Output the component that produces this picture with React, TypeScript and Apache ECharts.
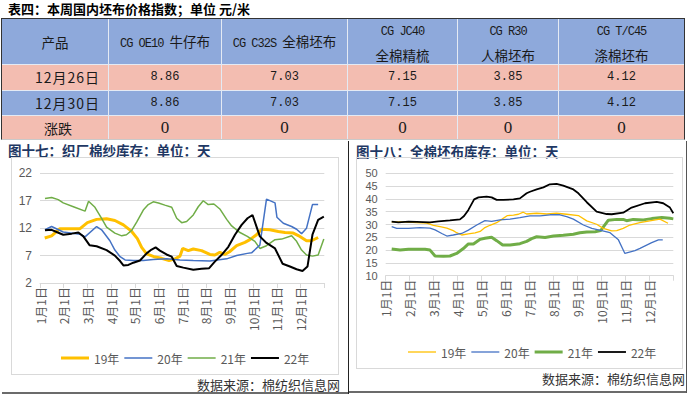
import React, { useEffect, useRef } from "react";
import * as echarts from "echarts";

// ---------- table data ----------
const tableTitle = "表四：本周国内坯布价格指数；单位 元/米";
const headerFirst = "产品";
const products = ["CG OE10 牛仔布", "CG C32S 全棉坯布", "CG JC40\n全棉精梳", "CG R30\n人棉坯布", "CG T/C45\n涤棉坯布"];
const rowLabels = ["12月26日", "12月30日", "涨跌"];
const prices1226 = ["8.86", "7.03", "7.15", "3.85", "4.12"];
const prices1230 = ["8.86", "7.03", "7.15", "3.85", "4.12"];
const changes = ["0", "0", "0", "0", "0"];

// ---------- chart data (x = months since 1月1日, y = days) ----------
const monthLabels = ["1月1日", "2月1日", "3月1日", "4月1日", "5月1日", "6月1日", "7月1日", "8月1日", "9月1日", "10月1日", "11月1日", "12月1日"];
const seriesNames = ["19年", "20年", "21年", "22年"];

const yarn19 = [[0.2,10.2],[0.49,10.6],[0.84,11.9],[1.69,11.9],[2.0,13.0],[2.39,13.6],[2.81,13.7],[3.16,13.4],[3.52,12.6],[3.87,11.4],[4.11,10.1],[4.29,8.5],[4.5,7.3],[4.81,6.8],[5.13,6.5],[5.45,6.1],[5.7,6.4],[5.91,6.9],[6.02,8.3],[6.26,7.9],[6.47,8.2],[6.82,7.9],[7.17,7.2],[7.38,7.1],[7.59,7.6],[7.8,7.2],[8.0,7.7],[8.3,8.8],[8.65,9.4],[8.86,9.9],[9.14,10.8],[9.35,11.8],[9.7,11.7],[10.06,11.4],[10.34,11.2],[10.69,11.1],[10.97,10.5],[11.25,9.7],[11.46,9.7],[11.74,10.3]];
const yarn20 = [[0.21,11.7],[0.49,12.3],[0.98,11.3],[1.69,10.9],[1.9,10.4],[2.39,12.3],[2.6,11.7],[2.95,9.7],[3.16,8.0],[3.38,6.8],[3.59,6.2],[3.94,6.1],[4.36,6.1],[4.78,6.3],[5.34,6.4],[5.9,6.2],[6.47,6.1],[7.17,6.0],[7.88,6.4],[8.3,7.0],[8.75,7.4],[8.93,7.5],[9.28,8.9],[9.56,17.3],[9.92,16.6],[10.0,14.0],[10.27,12.9],[10.62,12.3],[10.83,11.8],[11.04,11.0],[11.25,12.0],[11.5,16.3],[11.74,16.3]];
const yarn21 = [[0.21,17.4],[0.49,17.6],[0.77,17.2],[0.98,16.6],[1.41,15.9],[1.9,15.1],[2.05,16.9],[2.32,15.8],[2.6,13.8],[2.81,12.2],[3.16,11.1],[3.45,10.6],[3.65,10.8],[3.87,11.6],[4.08,13.1],[4.36,15.3],[4.57,16.3],[4.78,16.8],[5.0,16.6],[5.27,16.2],[5.56,15.8],[5.77,13.8],[5.98,13.0],[6.19,13.2],[6.47,14.4],[6.68,15.9],[6.89,17.0],[7.1,16.3],[7.34,16.4],[7.59,15.5],[7.88,13.6],[8.09,12.4],[8.44,11.2],[8.75,10.5],[9.07,9.6],[9.28,8.3],[9.56,8.8],[9.92,9.9],[10.2,10.0],[10.62,10.6],[10.83,9.6],[11.04,8.0],[11.25,7.1],[11.5,6.9],[11.74,7.1],[11.98,10.0]];
const yarn22 = [[0.21,11.6],[0.49,11.7],[0.7,11.3],[0.98,10.8],[1.34,11.0],[1.62,11.2],[1.83,10.5],[2.09,8.9],[2.39,8.7],[2.81,8.0],[3.16,7.0],[3.38,6.0],[3.52,5.2],[3.73,5.3],[3.94,5.7],[4.22,6.1],[4.5,7.4],[4.71,8.1],[4.88,8.5],[5.06,7.9],[5.34,7.2],[5.56,6.8],[5.77,5.1],[6.05,4.8],[6.47,4.4],[6.82,4.6],[7.14,4.7],[7.38,5.9],[7.66,7.1],[7.95,8.6],[8.23,10.8],[8.51,12.6],[8.76,13.8],[8.97,14.4],[9.28,10.5],[9.56,9.3],[9.92,8.3],[10.24,5.5],[10.55,5.0],[10.83,4.5],[11.08,4.2],[11.29,5.0],[11.5,10.8],[11.74,13.5],[11.98,14.1]];

const fabric19 = [[0.25,31.0],[0.6,31.0],[0.95,30.9],[1.29,30.7],[1.71,30.5],[1.99,29.7],[2.27,29.2],[2.55,28.6],[2.82,27.6],[2.96,26.8],[3.17,25.9],[3.45,26.3],[3.73,26.7],[3.94,27.3],[4.14,28.8],[4.35,29.7],[4.63,30.7],[4.84,32.0],[5.08,33.5],[5.33,33.7],[5.54,34.0],[5.74,34.8],[5.88,34.1],[6.3,34.4],[6.72,34.1],[7.13,34.4],[7.55,34.0],[8.04,33.5],[8.39,31.4],[8.8,30.1],[9.08,28.5],[9.43,27.5],[9.64,27.6],[9.91,28.5],[10.19,29.8],[10.6,30.7],[11.02,31.4],[11.44,32.1],[11.78,30.5]];
const fabric20 = [[0.25,29.2],[0.46,28.5],[0.95,28.5],[1.43,28.8],[1.85,28.6],[2.06,27.9],[2.34,26.5],[2.55,25.5],[2.82,25.9],[3.17,26.5],[3.45,27.8],[3.8,29.8],[4.14,31.5],[4.42,31.2],[4.77,31.8],[5.19,32.1],[5.6,32.7],[6.02,33.4],[6.44,33.4],[6.86,33.8],[7.27,33.8],[7.55,33.1],[7.83,32.1],[8.25,29.8],[8.6,28.5],[9.01,27.6],[9.36,26.8],[9.71,24.0],[9.98,18.7],[10.4,19.8],[10.61,20.7],[11.1,22.9],[11.38,24.0],[11.56,24.0]];
const fabric21 = [[0.25,20.4],[0.6,20.0],[0.95,20.3],[1.29,20.3],[1.64,20.3],[1.85,20.0],[2.06,17.7],[2.41,17.6],[2.68,17.7],[2.96,18.7],[3.24,20.6],[3.45,22.4],[3.66,22.4],[3.94,24.2],[4.14,24.6],[4.42,25.0],[4.63,23.7],[4.88,22.0],[5.19,22.0],[5.6,22.5],[5.88,23.4],[6.09,24.5],[6.3,25.2],[6.65,24.9],[7.0,25.5],[7.41,25.8],[7.83,26.2],[8.1,26.8],[8.39,27.1],[8.74,27.2],[8.97,27.6],[9.29,31.7],[9.64,32.0],[9.91,32.0],[10.05,31.5],[10.33,32.0],[10.75,31.8],[11.1,32.3],[11.52,32.7],[11.86,32.4],[12.0,32.2]];
const fabric22 = [[0.25,31.1],[0.53,30.8],[0.95,31.1],[1.29,31.0],[1.85,30.8],[2.2,31.2],[2.68,31.6],[3.1,32.0],[3.27,33.3],[3.45,35.7],[3.69,39.8],[3.87,40.6],[4.21,40.9],[4.42,40.6],[4.63,39.6],[4.91,39.6],[5.33,39.8],[5.6,40.2],[5.88,42.2],[6.02,42.8],[6.3,43.7],[6.58,44.5],[6.85,45.7],[7.13,45.9],[7.41,45.2],[7.83,43.7],[8.04,42.2],[8.39,38.7],[8.8,35.0],[9.22,34.1],[9.43,34.0],[9.91,34.6],[10.26,36.6],[10.82,38.3],[11.31,38.8],[11.58,38.3],[11.86,36.6],[12.0,34.4]];

const leftTitle = "图十七：织厂棉纱库存：单位：天";
const rightTitle = "图十八：全棉坯布库存：单位：天";
const sourceText = "数据来源：棉纺织信息网";

// ---------- styling ----------
const FONT = "'Noto Sans CJK SC', 'Noto Sans', sans-serif";
const NUM_FONT = "'Liberation Sans', 'Noto Sans', sans-serif";
const BLUE_ROW = "#8EA9DB";
const PINK_ROW = "#F3BDB1";
const colors = ["#FFC000", "#4472C4", "#70AD47", "#000000"];

const CJK_RE = /([\u2E80-\u9FFF\uFF00-\uFFEF]+)/;

function Mixed({ text, cjkSize, latinSize, latinSpacing }: { text: string; cjkSize: number; latinSize: number; latinSpacing: number }) {
  const parts = text.split(CJK_RE).filter((p) => p.length > 0);
  return (
    <span style={{ whiteSpace: "nowrap" }}>
      {parts.map((p, i) =>
        /[\u2E80-\u9FFF\uFF00-\uFFEF]/.test(p) ? (
          <span key={i} style={{ fontFamily: "'Noto Sans CJK SC'", fontSize: cjkSize }}>{p}</span>
        ) : (
          <span key={i} style={{ fontFamily: "'Liberation Mono'", fontSize: latinSize, letterSpacing: latinSpacing, whiteSpace: "pre" }}>{p}</span>
        )
      )}
    </span>
  );
}

const colX = [2, 109, 222, 348, 458, 559, 685];
const rowY = [19, 65, 90.5, 116, 140];
const labelLeft = [35, 35, 44];

function makeOption(cfg: any) {
  return {
    animation: false,
    backgroundColor: "transparent",
    textStyle: { fontFamily: FONT },
    grid: { ...cfg.grid, containLabel: false, outerBoundsMode: "none" },
    legend: {
      left: cfg.legendLeft,
      top: cfg.legendTop,
      itemWidth: 28,
      itemHeight: 10,
      itemGap: 5,
      symbolKeepAspect: true,
      textStyle: { color: "#595959", fontSize: 12, fontFamily: FONT },
      data: seriesNames.map((n, i) => ({
        name: n,
        icon: `path://M0,0H28V${cfg.widths[i]}H0Z`,
      })),
    },
    xAxis: {
      type: "value",
      min: 0,
      max: 12,
      interval: 1,
      axisLine: { show: true, lineStyle: { color: "#D9D9D9", width: 1 } },
      axisTick: { show: true, length: 5, lineStyle: { color: "#D9D9D9" } },
      splitLine: { show: false },
      axisLabel: {
        rotate: 90,
        margin: 4,
        color: "#595959",
        fontSize: 12,
        fontFamily: FONT,
        showMaxLabel: true,
        showMinLabel: true,
        formatter: (v: number) => monthLabels[Math.round(v)] ?? "",
      },
    },
    yAxis: {
      type: "value",
      min: cfg.yMin,
      max: cfg.yMax,
      interval: cfg.yInterval,
      axisLine: { show: false },
      axisTick: { show: false },
      splitLine: { lineStyle: { color: "#D9D9D9", width: 1 } },
      axisLabel: { color: "#595959", fontSize: cfg.yFont, lineHeight: cfg.yFont, margin: 8, fontFamily: NUM_FONT },
    },
    series: cfg.data.map((d: number[][], i: number) => ({
      name: seriesNames[i],
      type: "line",
      data: d,
      symbol: "none",
      showSymbol: false,
      z: cfg.z[i],
      lineStyle: { color: colors[i], width: cfg.widths[i] },
      itemStyle: { color: colors[i] },
    })),
  };
}

function Chart({ option, style }: { option: any; style: React.CSSProperties }) {
  const ref = useRef<HTMLDivElement>(null);
  useEffect(() => {
    if (!ref.current) return;
    const chart = echarts.init(ref.current, undefined, { renderer: "svg" });
    chart.setOption(option);
    return () => chart.dispose();
  }, [option]);
  return <div ref={ref} style={{ position: "absolute", ...style }} />;
}

const leftOption = makeOption({
  grid: { left: 40, top: 33.3, width: 284.3, height: 109.7 },
  legendLeft: 56,
  legendTop: 207,
  yMin: 2,
  yMax: 22,
  yInterval: 5,
  yFont: 12,
  data: [yarn19, yarn20, yarn21, yarn22],
  widths: [3, 1.5, 1.5, 2],
  z: [2, 3, 2, 4],
});

const rightOption = makeOption({
  grid: { left: 36.7, top: 33.3, width: 287.6, height: 102.4 },
  legendLeft: 54,
  legendTop: 201,
  yMin: 10,
  yMax: 50,
  yInterval: 5,
  yFont: 11,
  data: [fabric19, fabric20, fabric21, fabric22],
  widths: [1.3, 1.3, 3, 1.8],
  z: [3, 3, 2, 4],
});

export default function App() {
  const rows = [
    { label: rowLabels[0], values: prices1226, bg: PINK_ROW, size: 12, font: "'Liberation Mono'", sp: 1 },
    { label: rowLabels[1], values: prices1230, bg: BLUE_ROW, size: 12, font: "'Liberation Mono'", sp: 1 },
    { label: rowLabels[2], values: changes, bg: PINK_ROW, size: 17, font: "'Liberation Serif'", sp: 0 },
  ];
  const border: React.CSSProperties = {
    position: "absolute",
    boxSizing: "border-box",
    color: "#1a1a1a",
    borderRight: "1px solid #E4EAF4",
    borderBottom: "1px solid #E4EAF4",
  };
  const flexCell = (ci: number, ri: number, bg: string): React.CSSProperties => ({
    ...border,
    left: colX[ci],
    top: rowY[ri],
    width: colX[ci + 1] - colX[ci],
    height: rowY[ri + 1] - rowY[ri],
    background: bg,
    display: "flex",
    flexDirection: "row",
    flexWrap: "wrap",
    alignContent: "center",
    alignItems: "center",
    justifyContent: "center",
  });
  return (
    <div style={{ position: "absolute", left: 0, top: 0, width: 697, height: 397, overflow: "hidden", background: "#fff", fontFamily: FONT }}>
      {/* table title */}
      <div style={{ position: "absolute", left: 8, top: 1, fontSize: 13, lineHeight: "15px", fontWeight: 700, color: "#000", whiteSpace: "nowrap" }}>
        {tableTitle}
      </div>
      {/* header row */}
      <div style={flexCell(0, 0, BLUE_ROW)}>
        <span style={{ fontSize: 13.5 }}>{headerFirst}</span>
      </div>
      {products.map((p, i) => (
        <div key={p} style={{ ...flexCell(i + 1, 0, BLUE_ROW), flexDirection: "column", flexWrap: "nowrap", lineHeight: "22px" }}>
          {p.split("\n").map((line, j) => (
            <div key={j}>
              <Mixed text={line} cjkSize={13.5} latinSize={12} latinSpacing={-1} />
            </div>
          ))}
        </div>
      ))}
      {/* data rows: first column (background cells) */}
      {rows.map((r, ri) => (
        <div key={"lab" + ri} style={flexCell(0, ri + 1, r.bg)} />
      ))}
      {/* data rows: values */}
      {rows.map((r, ri) =>
        r.values.map((v, ci) => (
          <div key={"v" + ri + "_" + ci} style={flexCell(ci + 1, ri + 1, r.bg)}>
            <span style={{ fontFamily: r.font, fontSize: r.size }}>{v}</span>
          </div>
        ))
      )}
      {/* data rows: first column texts */}
      {rows.map((r, ri) => (
        <div
          key={"labt" + ri}
          style={{
            position: "absolute",
            left: labelLeft[ri],
            top: rowY[ri + 1],
            height: rowY[ri + 2] - rowY[ri + 1],
            lineHeight: `${rowY[ri + 2] - rowY[ri + 1]}px`,
            fontFamily: "'Noto Sans CJK SC'",
            fontSize: 14,
            letterSpacing: r.sp,
            whiteSpace: "nowrap",
            color: "#1a1a1a",
          }}
        >
          {r.label}
        </div>
      ))}
      {/* table outer border */}
      <div style={{ position: "absolute", left: colX[0] - 1, top: rowY[0] - 1, width: colX[6] - colX[0] + 1, height: rowY[4] - rowY[0] + 1, borderLeft: "1px solid #333", borderTop: "1px solid #333", borderRight: "1px solid #333", borderBottom: "1px solid #C9C9C9", boxSizing: "border-box" }} />

      {/* panel decorations */}
      <div style={{ position: "absolute", left: 348, top: 141, width: 1, height: 253, background: "#222" }} />
      <div style={{ position: "absolute", left: 686, top: 141, width: 1, height: 252, background: "#555" }} />
      <div style={{ position: "absolute", left: 2, top: 392, width: 346, height: 2, background: "#6b6b6b" }} />
      <div style={{ position: "absolute", left: 349, top: 391, width: 337, height: 2, background: "#6b6b6b" }} />

      <div style={{ position: "absolute", left: 8, top: 142, fontSize: 13.5, lineHeight: "16px", fontWeight: 700, color: "#1F3864", whiteSpace: "nowrap" }}>{leftTitle}</div>
      <div style={{ position: "absolute", left: 356, top: 143, fontSize: 13.5, lineHeight: "16px", fontWeight: 700, color: "#1F3864", whiteSpace: "nowrap" }}>{rightTitle}</div>

      <div style={{ position: "absolute", left: 11, top: 157, width: 328, height: 218, border: "1px solid #D9D9D9", boxSizing: "border-box" }} />
      <div style={{ position: "absolute", left: 356, top: 157, width: 327, height: 212, border: "1px solid #D9D9D9", boxSizing: "border-box" }} />

      <div style={{ position: "absolute", right: 697 - 340, top: 377, fontSize: 13, lineHeight: "16px", color: "#333", whiteSpace: "nowrap" }}>{sourceText}</div>
      <div style={{ position: "absolute", right: 697 - 685, top: 371, fontSize: 13, lineHeight: "16px", color: "#333", whiteSpace: "nowrap" }}>{sourceText}</div>

      <Chart option={leftOption} style={{ left: 0, top: 140, width: 348, height: 257 }} />
      <Chart option={rightOption} style={{ left: 349, top: 140, width: 348, height: 257 }} />
    </div>
  );
}
